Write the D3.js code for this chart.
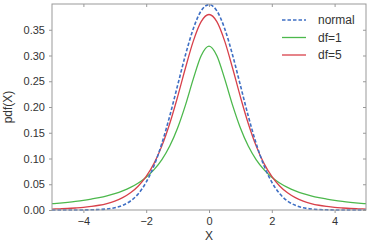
<!DOCTYPE html>
<html>
<head>
<meta charset="utf-8">
<script src="https://cdn.jsdelivr.net/npm/d3@7"></script>
<style>
  body { margin: 0; background: #fff; }
  text { font-family: "Liberation Sans", Arial, sans-serif; }
</style>
</head>
<body>
<div id="chart"></div>
<script>
// x positions (step 0.25) and pdf values
const xs = [-5, -4.75, -4.5, -4.25, -4, -3.75, -3.5, -3.25, -3, -2.75, -2.5, -2.25, -2, -1.75, -1.5, -1.25, -1, -0.75, -0.5, -0.25,
    0, 0.25, 0.5, 0.75, 1, 1.25, 1.5, 1.75, 2, 2.25, 2.5, 2.75, 3, 3.25, 3.5, 3.75, 4, 4.25, 4.5, 4.75, 5];

const normalVals = [0.0000, 0.0000, 0.0000, 0.0000, 0.0001, 0.0004, 0.0009, 0.0020, 0.0044, 0.0091, 0.0175, 0.0317, 0.0540, 0.0863, 0.1295, 0.1826, 0.2420, 0.3011, 0.3521, 0.3867,
    0.3989, 0.3867, 0.3521, 0.3011, 0.2420, 0.1826, 0.1295, 0.0863, 0.0540, 0.0317, 0.0175, 0.0091, 0.0044, 0.0020, 0.0009, 0.0004, 0.0001, 0.0000, 0.0000, 0.0000, 0.0000];

const df1Vals = [0.0122, 0.0135, 0.0150, 0.0167, 0.0187, 0.0212, 0.0240, 0.0275, 0.0318, 0.0372, 0.0439, 0.0525, 0.0637, 0.0784, 0.0979, 0.1242, 0.1592, 0.2037, 0.2546, 0.2996,
    0.3183, 0.2996, 0.2546, 0.2037, 0.1592, 0.1242, 0.0979, 0.0784, 0.0637, 0.0525, 0.0439, 0.0372, 0.0318, 0.0275, 0.0240, 0.0212, 0.0187, 0.0167, 0.0150, 0.0135, 0.0122];

const df5Vals = [0.0018, 0.0023, 0.0029, 0.0039, 0.0051, 0.0069, 0.0092, 0.0126, 0.0173, 0.0239, 0.0333, 0.0466, 0.0651, 0.0905, 0.1245, 0.1679, 0.2197, 0.2757, 0.3279, 0.3657,
    0.3796, 0.3657, 0.3279, 0.2757, 0.2197, 0.1679, 0.1245, 0.0905, 0.0651, 0.0466, 0.0333, 0.0239, 0.0173, 0.0126, 0.0092, 0.0069, 0.0051, 0.0039, 0.0029, 0.0023, 0.0018];

const seriesNames = ["normal", "df=1", "df=5"];
const seriesColors = ["#3f6fc4", "#4cb84c", "#d8404a"];
const xTicks = [-4, -2, 0, 2, 4];
const yTicks = [0.00, 0.05, 0.10, 0.15, 0.20, 0.25, 0.30, 0.35];

const width = 370;
const height = 245;
const margin = { top: 4, right: 4, bottom: 35, left: 52 };

const svg = d3.select("#chart")
    .append("svg")
    .attr("width", width)
    .attr("height", height);

const x = d3.scaleLinear().domain([-5, 5]).range([margin.left, width - margin.right]);
const y = d3.scaleLinear().domain([0, 0.4]).range([height - margin.bottom, margin.top]);

// curves
const line = d3.line()
    .x(d => x(d[0]))
    .y(d => y(d[1]))
    .curve(d3.curveMonotoneX);

const allVals = [normalVals, df1Vals, df5Vals];
// draw green and red first, dashed normal on top
[1, 2, 0].forEach(i => {
    svg.append("path")
        .datum(xs.map((v, j) => [v, allVals[i][j]]))
        .attr("fill", "none")
        .attr("stroke", seriesColors[i])
        .attr("stroke-width", i === 0 ? 1.6 : 1.3)
        .attr("stroke-dasharray", i === 0 ? "3.5,2" : null)
        .attr("d", line);
});

// frame
svg.append("rect")
    .attr("x", x(-5))
    .attr("y", y(0.4))
    .attr("width", x(5) - x(-5))
    .attr("height", y(0) - y(0.4))
    .attr("fill", "none")
    .attr("stroke", "#999")
    .attr("stroke-width", 1);

// axes
const styleAxis = g => {
    g.select(".domain").remove();
    g.selectAll(".tick line").attr("stroke", "#999");
    g.selectAll(".tick text").attr("fill", "#333").style("font-size", "11px");
};

svg.append("g")
    .attr("transform", `translate(0,${y(0)})`)
    .call(d3.axisBottom(x).tickValues(xTicks).tickSize(3).tickPadding(4).tickFormat(d3.format("d")))
    .call(styleAxis);

svg.append("g")
    .attr("transform", `translate(${x(-5)},0)`)
    .call(d3.axisLeft(y).tickValues(yTicks).tickSize(3).tickPadding(4).tickFormat(d3.format(".2f")))
    .call(styleAxis);

// mirrored inward ticks on top and right
svg.append("g")
    .attr("transform", `translate(0,${y(0.4)})`)
    .call(d3.axisBottom(x).tickValues(xTicks).tickSize(3).tickFormat(""))
    .call(styleAxis);

svg.append("g")
    .attr("transform", `translate(${x(5)},0)`)
    .call(d3.axisLeft(y).tickValues(yTicks).tickSize(3).tickFormat(""))
    .call(styleAxis);

// axis labels
svg.append("text")
    .attr("x", x(0))
    .attr("y", 240)
    .attr("text-anchor", "middle")
    .attr("fill", "#333")
    .style("font-size", "12px")
    .text("X");

svg.append("text")
    .attr("transform", `translate(12,${y(0.2)}) rotate(-90)`)
    .attr("text-anchor", "middle")
    .attr("fill", "#333")
    .style("font-size", "12px")
    .text("pdf(X)");

// legend
const legend = svg.append("g").attr("transform", "translate(282,20)");
seriesNames.forEach((name, i) => {
    const row = legend.append("g").attr("transform", `translate(0,${i * 17.5})`);
    row.append("line")
        .attr("x1", 0).attr("x2", 24)
        .attr("stroke", seriesColors[i])
        .attr("stroke-width", i === 0 ? 1.6 : 1.3)
        .attr("stroke-dasharray", i === 0 ? "3.5,2" : null);
    row.append("text")
        .attr("x", 36)
        .attr("y", 4)
        .attr("fill", "#333")
        .style("font-size", "12px")
        .text(name);
});
</script>
</body>
</html>
